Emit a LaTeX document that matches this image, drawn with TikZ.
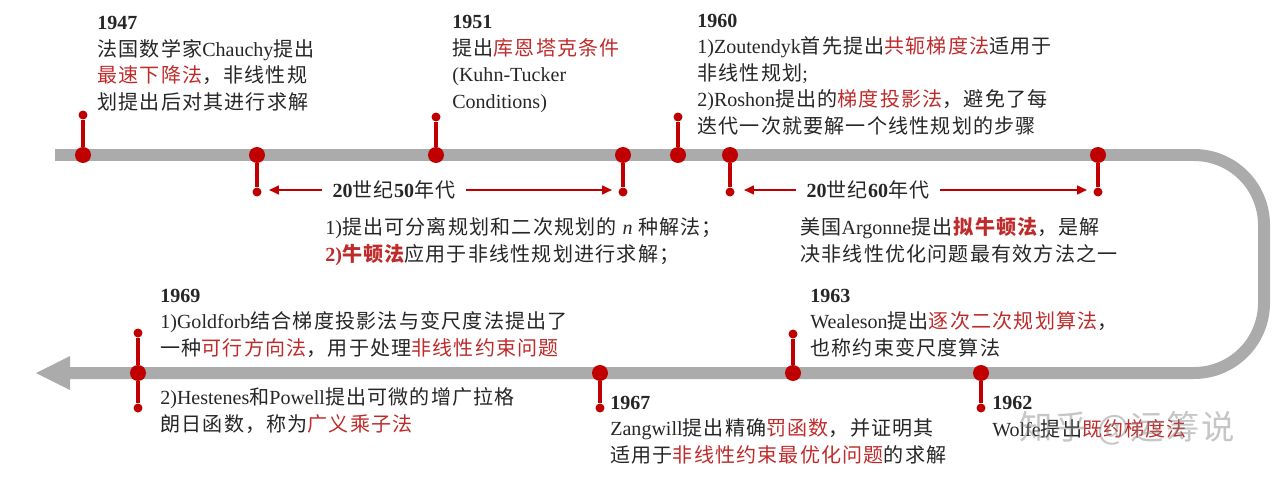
\documentclass[tikz,border=0pt]{standalone}
\usepackage{fontspec}
\setmainfont{Noto Sans CJK SC}[LetterSpace=6]
\newfontfamily\latfont{Liberation Serif}
\usetikzlibrary{positioning,arrows.meta}
\definecolor{tlGray}{HTML}{ABABAB}
\definecolor{tlRed}{HTML}{C00000}
\definecolor{tlRedText}{HTML}{BF2B2B}
\definecolor{tlInk}{HTML}{262626}
\newcommand{\en}[1]{{\latfont #1}}
\newcommand{\yearmark}[1]{{\latfont\bfseries #1}}
\newcommand{\rojo}[1]{\textcolor{tlRedText}{#1}}
\tikzset{
  pin/.style={circle, fill=tlRed, inner sep=0pt, minimum size=0.32cm},
  pinEnd/.style={circle, fill=tlRed, inner sep=0pt, minimum size=0.18cm},
  stem/.style={tlRed, line width=2pt},
  evt/.style={anchor=base west, align=left, inner sep=0pt, text=tlInk,
    font=\fontsize{11.4pt}{15pt}\selectfont},
  era/.style={inner xsep=0.2cm, inner ysep=0pt, text=tlInk,
    font=\fontsize{11.4pt}{15pt}\selectfont},
  eraArrow/.style={tlRed, line width=1.6pt, -{Triangle[length=0.2cm,width=0.17cm]}}
}
\begin{document}
\begin{tikzpicture}[x=0.02cm, y=-0.02cm]
  \useasboundingbox (0,0) rectangle (1276,480);
  % main timeline
  \draw[tlGray, line width=0.24cm, rounded corners=1.4cm]
    (55,155) -- (1264,155) -- (1264,373) -- (68,373);
  \fill[tlGray] (36,373) -- (70,356) -- (70,390) -- cycle;

  % pins on the line
  \foreach \n/\px/\py/\ey in {p1/83/155/115, p2/257/155/192, p3/436/155/117,
      p4/623/155/192, p5/678/155/117, p6/730/155/192, p7/1098/155/192,
      p8/138/373/333, p9/600/373/408, p10/793/373/334, p11/981/373/408} {
    \node[pinEnd] (\n e) at (\px,\ey) {};
    \node[pin] (\n) at (\px,\py) {};
    \draw[stem] (\n) -- (\n e);
  }
  \node[pinEnd] (p8d) at (138,408) {};
  \draw[stem] (p8) -- (p8d);

  % events (placed by the baseline of their last line)
  \node[evt] (ev1947) at (97,109) {\yearmark{1947}\\法国数学家\en{Chauchy}提出\\
    \rojo{最速下降法}，非线性规\\划提出后对其进行求解};
  \node[evt] (ev1951) at (452,108) {\yearmark{1951}\\提出\rojo{库恩塔克条件}\\
    \en{(Kuhn-Tucker}\\\en{Conditions)}};
  \node[evt] (ev1960) at (697,133) {\yearmark{1960}\\
    \en{1)Zoutendyk}首先提出\rojo{共轭梯度法}适用于\\非线性规划\en{;}\\
    \en{2)Roshon}提出的\rojo{梯度投影法}，避免了每\\迭代一次就要解一个线性规划的步骤};
  \node[evt] (ev50s) at (325,261) {\en{1)}提出可分离规划和二次规划的 \en{\textit{n}} 种解法；\\
    \textbf{\rojo{\en{2)}牛顿法}}应用于非线性规划进行求解；};
  \node[evt] (ev60s) at (800,261) {美国\en{Argonne}提出\textbf{\rojo{拟牛顿法}}，是解\\
    决非线性优化问题最有效方法之一};
  \node[evt] (ev1969a) at (160,355) {\yearmark{1969}\\
    \en{1)Goldforb}结合梯度投影法与变尺度法提出了\\
    一种\rojo{可行方向法}，用于处理\rojo{非线性约束问题}};
  \node[evt] (ev1969b) at (160,431) {\en{2)Hestenes}和\en{Powell}提出可微的增广拉格\\
    朗日函数，称为\rojo{广义乘子法}};
  \node[evt] (ev1963) at (810,355) {\yearmark{1963}\\
    \en{Wealeson}提出\rojo{逐次二次规划算法}，\\也称约束变尺度算法};
  \node[evt] (ev1967) at (610,462) {\yearmark{1967}\\
    \en{Zangwill}提出精确\rojo{罚函数}，并证明其\\
    适用于\rojo{非线性约束最优化问题}的求解};
  \node[evt] (ev1962) at (992,436) {\yearmark{1962}\\\en{Wolfe}提出\rojo{既约梯度法}};

  % decades
  \node[era] (era50) at (394,190) {\yearmark{20}世纪\yearmark{50}年代};
  \draw[eraArrow] (era50.west) -- ([xshift=0.14cm]era50.west -| p2e.east);
  \draw[eraArrow] (era50.east) -- ([xshift=-0.12cm]era50.east -| p4e.west);
  \node[era] (era60) at (868,190) {\yearmark{20}世纪\yearmark{60}年代};
  \draw[eraArrow] (era60.west) -- ([xshift=0.18cm]era60.west -| p6e.east);
  \draw[eraArrow] (era60.east) -- ([xshift=-0.12cm]era60.east -| p7e.west);

  % watermark
  \node[text=gray, opacity=0.45, font=\fontsize{19pt}{19pt}\selectfont] (marca)
    at (1127,428) {知乎 @运筹说};
\end{tikzpicture}
\end{document}
